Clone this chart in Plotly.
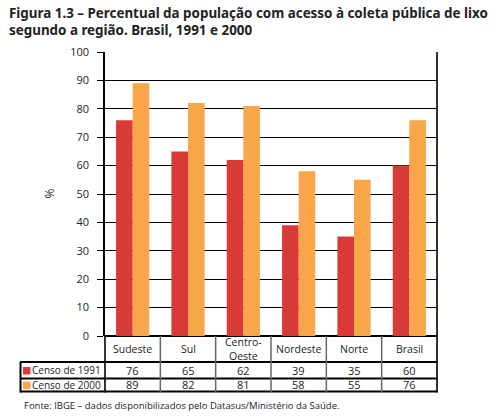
import plotly.graph_objects as go

categories = ["Sudeste", "Sul", "Centro-<br>Oeste", "Nordeste", "Norte", "Brasil"]
series_names = ["Censo de 1991", "Censo de 2000"]
values_1991 = [76, 65, 62, 39, 35, 60]
values_2000 = [89, 82, 81, 58, 55, 76]
y_ticks = list(range(0, 101, 10))

RED = "#d93a38"
ORANGE = "#f9a54a"
FONT = "Open Sans"

W, H = 502, 416
L, R, T, B = 105, 437, 52, 336
def px(x):
    return (x - L) / (R - L)
def py(y):
    return (B - y) / (B - T)

xs = list(range(len(categories)))
fig = go.Figure()
fig.add_trace(go.Bar(x=xs, y=values_1991, name=series_names[0], marker_color=RED, marker_line_width=0))
fig.add_trace(go.Bar(x=xs, y=values_2000, name=series_names[1], marker_color=ORANGE, marker_line_width=0))

shapes = []
annotations = []
# table horizontal lines
for yy, w in [(362, 2), (378.5, 2), (391.5, 2.2)]:
    shapes.append(dict(type="line", xref="paper", yref="paper", x0=px(20), x1=px(437.5), y0=py(yy), y1=py(yy),
                       line=dict(color="black", width=w)))
# table left border
shapes.append(dict(type="line", xref="paper", yref="paper", x0=px(20.5), x1=px(20.5), y0=py(362), y1=py(392.5),
                   line=dict(color="black", width=2)))
# y axis extension and right border
shapes.append(dict(type="line", xref="paper", yref="paper", x0=0, x1=0, y0=0, y1=py(392.5),
                   line=dict(color="black", width=1.6)))
shapes.append(dict(type="line", xref="paper", yref="paper", x0=1, x1=1, y0=1, y1=py(392.5),
                   line=dict(color="black", width=1.6)))
# column separators
for i in range(len(categories) - 1):
    shapes.append(dict(type="line", xref="x", yref="paper", x0=i + 0.5, x1=i + 0.5, y0=0, y1=py(392),
                       line=dict(color="#666666", width=1.5)))
# category labels and values
for i, c in enumerate(categories):
    annotations.append(dict(x=i, y=py(349), xref="x", yref="paper", text=c, showarrow=False,
                            font=dict(family=FONT, size=10.5, color="#222"), yanchor="middle"))
    annotations.append(dict(x=i, y=py(370.5), xref="x", yref="paper", text=str(values_1991[i]), showarrow=False,
                            font=dict(family=FONT, size=11, color="#222"), yanchor="middle"))
    annotations.append(dict(x=i, y=py(385), xref="x", yref="paper", text=str(values_2000[i]), showarrow=False,
                            font=dict(family=FONT, size=11, color="#222"), yanchor="middle"))
# legend rows
for name, col, yy in [(series_names[0], RED, 370.5), (series_names[1], ORANGE, 385)]:
    shapes.append(dict(type="rect", xref="paper", yref="paper", x0=px(23), x1=px(30.5), y0=py(yy + 4), y1=py(yy - 3.5),
                       fillcolor=col, line=dict(width=0)))
    annotations.append(dict(x=px(103), y=py(yy), xref="paper", yref="paper", text=name, showarrow=False,
                            xanchor="right", yanchor="middle", font=dict(family=FONT, size=10, color="#222")))
# y title
annotations.append(dict(x=px(38), y=py(194), xref="paper", yref="paper", text="%", textangle=-90, showarrow=False,
                        font=dict(family=FONT, size=12, color="#222")))
# title
annotations.append(dict(x=px(7), y=py(2), xref="paper", yref="paper", showarrow=False,
                        xanchor="left", yanchor="top", align="left",
                        text="<b>Figura 1.3 – Percentual da população com acesso à coleta pública de lixo<br>segundo a região. Brasil, 1991 e 2000</b>",
                        font=dict(family="Noto Sans", size=13.4, color="#222")))
# source
annotations.append(dict(x=px(22), y=py(406), xref="paper", yref="paper", showarrow=False,
                        xanchor="left", yanchor="middle",
                        text="Fonte: IBGE – dados disponibilizados pelo Datasus/Ministério da Saúde.",
                        font=dict(family=FONT, size=9.5, color="#222")))

fig.update_layout(
    width=W, height=H,
    margin=dict(l=L, r=W - R, t=T, b=H - B, pad=0),
    paper_bgcolor="white", plot_bgcolor="white",
    barmode="group", bargap=0.4, bargroupgap=0,
    showlegend=False,
    shapes=shapes, annotations=annotations,
    xaxis=dict(range=[-0.5, len(categories) - 0.5], showticklabels=False, showgrid=False, zeroline=False,
               showline=False, ticks=""),
    yaxis=dict(range=[0, 100], tickvals=y_ticks, showgrid=True, gridcolor="black", gridwidth=1.2,
               zeroline=True, zerolinecolor="black", zerolinewidth=1.6,
               showline=True, linecolor="black", linewidth=1.6,
               ticks="outside", ticklen=6, tickcolor="black", tickwidth=1.2,
               tickfont=dict(family=FONT, size=11, color="#222"), ticklabelstandoff=6),
)
fig.write_html("out.html", config={"displayModeBar": False},
               post_script="document.body.style.margin='0px';document.body.style.overflow='hidden';")
